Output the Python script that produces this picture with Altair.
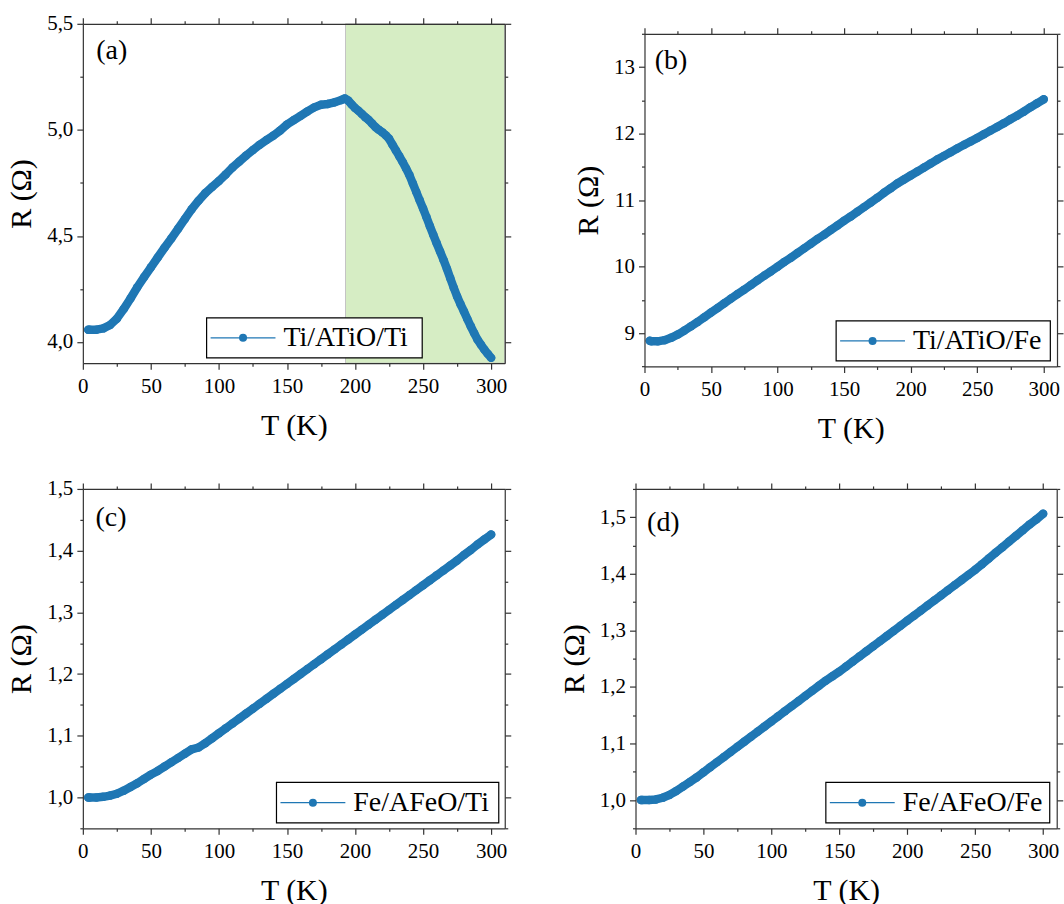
import altair as alt
import pandas as pd

BLUE = "#1f77b4"
SHADE = "#d6edc4"
FRAME = "#333333"
FONT = "Times New Roman, Liberation Serif, DejaVu Serif, serif"

# ---- measured R(T) curves -------------------------------------------------
# (a) Ti/ATiO/Ti
t_a = [4, 5, 10, 15, 20, 25, 30, 35, 40, 45, 50, 55, 60, 65, 70, 75, 80, 85, 90, 95,
       100, 105, 110, 115, 120, 125, 130, 135, 140, 145, 150, 155, 160, 165, 170, 175,
       180, 185, 190, 192.5, 195, 197.5, 200, 202.5, 205, 207.5, 210, 212.5, 215, 217.5,
       220, 222.5, 225, 227.5, 230, 232.5, 235, 237.5, 240, 242.5, 245, 247.5, 250,
       252.5, 255, 257.5, 260, 262.5, 265, 267.5, 270, 272.5, 275, 277.5, 280, 282.5,
       285, 287.5, 290, 292.5, 295, 297.5, 300]
r_a = [4.058, 4.058, 4.058, 4.064, 4.080, 4.110, 4.155, 4.205, 4.258, 4.306,
       4.352, 4.398, 4.444, 4.488, 4.534, 4.580, 4.626, 4.666, 4.702, 4.731,
       4.759, 4.790, 4.823, 4.851, 4.879, 4.905, 4.930, 4.952, 4.973, 4.997,
       5.025, 5.046, 5.066, 5.087, 5.106, 5.118, 5.122, 5.130, 5.141,
       5.148, 5.138, 5.120, 5.103, 5.090, 5.075, 5.060, 5.047, 5.030, 5.013, 5.000,
       4.989, 4.975, 4.958, 4.930, 4.903, 4.876, 4.848, 4.818, 4.786, 4.747, 4.707,
       4.668, 4.629, 4.588, 4.546, 4.505, 4.465, 4.426, 4.387, 4.345, 4.300, 4.256,
       4.214, 4.178, 4.144, 4.108, 4.074, 4.042, 4.011, 3.987, 3.964, 3.944, 3.925]

# common temperature grid for (b), (c), (d)
t_grid = [4, 5, 10, 15, 20, 25, 30, 35, 40, 45, 50, 55, 60, 65, 70, 75, 80, 85, 90, 95,
          100, 105, 110, 115, 120, 125, 130, 135, 140, 145, 150, 155, 160, 165, 170, 175,
          180, 185, 190, 195, 200, 205, 210, 215, 220, 225, 230, 235, 240, 245, 250, 255,
          260, 265, 270, 275, 280, 285, 290, 295, 300]

# (b) Ti/ATiO/Fe
r_b = [8.885, 8.880, 8.878, 8.895, 8.930, 8.980, 9.040, 9.105, 9.170, 9.240,
       9.310, 9.380, 9.450, 9.520, 9.590, 9.655, 9.725, 9.795, 9.865, 9.930,
       10.000, 10.070, 10.135, 10.205, 10.275, 10.345, 10.415, 10.480, 10.550, 10.620,
       10.690, 10.755, 10.825, 10.895, 10.965, 11.035, 11.110, 11.180, 11.250, 11.310,
       11.370, 11.430, 11.490, 11.550, 11.610, 11.665, 11.720, 11.775, 11.830, 11.880,
       11.935, 11.990, 12.045, 12.100, 12.155, 12.215, 12.270, 12.330, 12.395, 12.455,
       12.515]

# (c) Fe/AFeO/Ti
r_c = [1.000, 1.000, 1.000, 1.001, 1.003, 1.006, 1.011, 1.017, 1.023, 1.030,
       1.037, 1.043, 1.050, 1.057, 1.064, 1.071, 1.078, 1.081, 1.088, 1.096,
       1.104, 1.112, 1.120, 1.128, 1.136, 1.144, 1.152, 1.160, 1.168, 1.176,
       1.184, 1.192, 1.200, 1.208, 1.216, 1.224, 1.232, 1.240, 1.248, 1.256,
       1.264, 1.272, 1.280, 1.288, 1.296, 1.304, 1.312, 1.320, 1.328, 1.336,
       1.344, 1.352, 1.360, 1.368, 1.376, 1.384, 1.393, 1.401, 1.410, 1.418,
       1.426]

# (d) Fe/AFeO/Fe
r_d = [1.000, 1.000, 1.000, 1.001, 1.004, 1.009, 1.016, 1.024, 1.032, 1.040,
       1.049, 1.058, 1.067, 1.076, 1.085, 1.094, 1.103, 1.112, 1.121, 1.130,
       1.139, 1.148, 1.157, 1.166, 1.175, 1.184, 1.193, 1.202, 1.211, 1.219,
       1.227, 1.236, 1.245, 1.254, 1.263, 1.272, 1.281, 1.290, 1.299, 1.308,
       1.317, 1.326, 1.335, 1.344, 1.353, 1.362, 1.371, 1.380, 1.389, 1.398,
       1.407, 1.417, 1.427, 1.437, 1.447, 1.457, 1.467, 1.477, 1.487, 1.496,
       1.506]

# shaded temperature window in (a)
shade_t = [193, 310]

# ---- tick positions (major + minor) ----------------------------------------
x_ticks = [0, 25, 50, 75, 100, 125, 150, 175, 200, 225, 250, 275, 300]
y_ticks_a = [4.0, 4.25, 4.5, 4.75, 5.0, 5.25, 5.5]
y_ticks_b = [8.5, 9, 9.5, 10, 10.5, 11, 11.5, 12, 12.5, 13, 13.5]
y_ticks_c = [0.95, 1.0, 1.05, 1.1, 1.15, 1.2, 1.25, 1.3, 1.35, 1.4, 1.45, 1.5]
y_ticks_d = [0.95, 1.0, 1.05, 1.1, 1.15, 1.2, 1.25, 1.3, 1.35, 1.4, 1.45, 1.5, 1.55]

X_MAJOR = "datum.value % 50 === 0"
HALF_MAJOR = "abs(datum.value * 2 - round(datum.value * 2)) < 1e-6"
UNIT_MAJOR = "abs(datum.value - round(datum.value)) < 1e-6"
TENTH_MAJOR = "abs(datum.value * 10 - round(datum.value * 10)) < 1e-6"
COMMA_LABEL = "replace(format(datum.value, '.1f'), '.', ',')"
INT_LABEL = "format(datum.value, 'd')"

LINE_STYLE = dict(domainColor=FRAME, domainWidth=1.2, tickColor=FRAME, tickWidth=1.2,
                  grid=False, zindex=1)
TEXT_STYLE = dict(labelFont=FONT, labelFontSize=21, labelColor="black",
                  labelFlush=False, labelOverlap=False, titleFont=FONT, titleFontSize=30,
                  titleFontWeight="normal", titleColor="black")


def tick_size(test):
    return {"condition": {"test": test, "value": 6}, "value": 3}


def panel(t, r, name, tag, ydom, yvals, ymajor, ylabel, w, h, box, tag_pos, shade=None):
    df = pd.DataFrame({"T": t, "R": r})
    xs = alt.Scale(domain=[0, 310], nice=False, zero=False)
    ys = alt.Scale(domain=ydom, nice=False, zero=False)

    ax_bottom = alt.Axis(orient="bottom", values=x_ticks, tickSize=tick_size(X_MAJOR),
                         labelExpr=f"{X_MAJOR} ? datum.label : ''", title="T (K)",
                         labelPadding=6, titlePadding=14, **LINE_STYLE, **TEXT_STYLE)
    ax_top = alt.Axis(orient="top", values=x_ticks, tickSize=tick_size(X_MAJOR),
                      labels=False, title=None, **LINE_STYLE)
    ax_left = alt.Axis(orient="left", values=yvals, tickSize=tick_size(ymajor),
                       labelExpr=f"{ymajor} ? {ylabel} : ''", title="R (Ω)",
                       labelPadding=4, titlePadding=10, **LINE_STYLE, **TEXT_STYLE)
    ax_right = alt.Axis(orient="right", values=yvals, tickSize=tick_size(ymajor),
                        labels=False, title=None, **LINE_STYLE)

    layers = []
    if shade is not None:
        sdf = pd.DataFrame({"t0": [shade[0]], "t1": [shade[1]],
                            "r0": [ydom[0]], "r1": [ydom[1]]})
        layers.append(
            alt.Chart(sdf).mark_rect(fill=SHADE, stroke="#c4c4c4", strokeWidth=1).encode(
                x=alt.X("t0:Q", scale=xs, axis=None), x2="t1:Q",
                y=alt.Y("r0:Q", scale=ys, axis=None), y2="r1:Q"))

    # dense markers: a thick connecting line under filled circles
    layers.append(
        alt.Chart(df).mark_line(color=BLUE, strokeWidth=8.5, strokeCap="round",
                                strokeJoin="round").encode(
            x=alt.X("T:Q", scale=xs, axis=ax_top),
            y=alt.Y("R:Q", scale=ys, axis=ax_right)))
    layers.append(
        alt.Chart(df).mark_circle(color=BLUE, size=72, opacity=1).encode(
            x=alt.X("T:Q", scale=xs, axis=ax_bottom),
            y=alt.Y("R:Q", scale=ys, axis=ax_left)))

    # panel letter
    tdf = pd.DataFrame({"tag": [tag]})
    layers.append(
        alt.Chart(tdf).mark_text(font=FONT, fontSize=28, align="left", baseline="middle",
                                 color="black").encode(
            x=alt.value(tag_pos[0]), y=alt.value(tag_pos[1]), text="tag:N"))

    # legend box: line + marker + sample name
    bx0, bx1, by0, by1 = box
    ly = (by0 + by1) / 2
    ldf = pd.DataFrame({"label": [name]})
    base = alt.Chart(ldf)
    layers.append(base.mark_rect(fill="white", stroke="black", strokeWidth=1.2).encode(
        x=alt.value(bx0), x2=alt.value(bx1), y=alt.value(by0), y2=alt.value(by1)))
    layers.append(base.mark_rule(color=BLUE, strokeWidth=1.2).encode(
        x=alt.value(bx0 + 4), x2=alt.value(bx0 + 69), y=alt.value(ly)))
    layers.append(base.mark_circle(color=BLUE, size=64, opacity=1).encode(
        x=alt.value(bx0 + 36.5), y=alt.value(ly)))
    layers.append(base.mark_text(font=FONT, fontSize=28, align="left", baseline="middle",
                                 color="black").encode(
        x=alt.value(bx0 + 77), y=alt.value(ly + 0.5), text="label:N"))

    return alt.layer(*layers).resolve_axis(x="independent", y="independent").properties(
        width=w, height=h)


pa = panel(t_a, r_a, "Ti/ATiO/Ti", "(a)", [3.9, 5.5], y_ticks_a, HALF_MAJOR, COMMA_LABEL,
           422.7, 340, (124, 340, 294.6, 334.6), (13.4, 27), shade=shade_t)
pb = panel(t_grid, r_b, "Ti/ATiO/Fe", "(b)", [8.5, 13.5], y_ticks_b, UNIT_MAJOR, INT_LABEL,
           413.3, 333.3, (192, 406.6, 287.7, 327.7), (10.3, 27.3))
pc = panel(t_grid, r_c, "Fe/AFeO/Ti", "(c)", [0.95, 1.5], y_ticks_c, TENTH_MAJOR, COMMA_LABEL,
           422.7, 340, (194, 416.7, 294, 334.6), (12.7, 29.4))
pd_ = panel(t_grid, r_d, "Fe/AFeO/Fe", "(d)", [0.95, 1.55], y_ticks_d, TENTH_MAJOR, COMMA_LABEL,
            422, 340, (190.7, 415, 294, 334.6), (11.6, 34.4))

spacer = alt.Chart(pd.DataFrame({"v": [0]})).mark_point(opacity=0).encode(
    x=alt.value(0), y=alt.value(0)).properties(width=413.3, height=9.6)

row1 = alt.hconcat(pa, alt.vconcat(spacer, pb, spacing=0, bounds="flush"),
                   spacing=139.7, bounds="flush")
row2 = alt.hconcat(pc, pd_, spacing=130.7, bounds="flush")

chart = alt.vconcat(row1, row2, spacing=34).properties(
    padding={"left": 6, "top": 12, "right": 0, "bottom": 5}
).configure_view(strokeWidth=0)

chart.save("out.html", embed_options={"renderer": "svg", "actions": False})
